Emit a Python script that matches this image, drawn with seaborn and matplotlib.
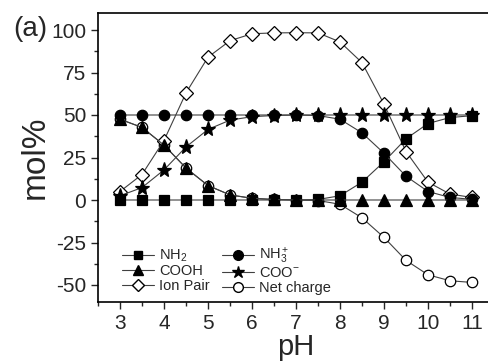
import matplotlib
matplotlib.use("Agg")
import matplotlib.pyplot as plt
import seaborn as sns
import numpy as np
import pandas as pd
from matplotlib.lines import Line2D

ph = [3, 3.5, 4, 4.5, 5, 5.5, 6, 6.5, 7, 7.5, 8, 8.5, 9, 9.5, 10, 10.5, 11]
nh2 = [0, 0, 0, 0, 0, 0, 0, 0, 0, 0.3, 2.5, 10.5, 22.5, 36, 45, 48.5, 49.6]
nh3 = [50, 50, 50, 50, 50, 50, 50, 50, 50, 49.7, 47.5, 39.5, 27.5, 14, 5, 1.5, 0.4]
cooh = [47.5, 42.7, 32.3, 18.8, 8.5, 3, 1, 0.3, 0, 0, 0, 0, 0, 0, 0, 0, 0]
coo = [2.5, 7.3, 17.7, 31.2, 41.5, 47, 49, 49.7, 50, 50, 50, 50, 50, 50, 50, 50, 50]
ion_pair = [5, 15, 35, 63, 84, 93.7, 97.8, 98.3, 98.4, 98.3, 93, 80.8, 56.4, 28.5, 10.5, 3.5, 1.5]
net_charge = [47.5, 42.7, 32.3, 18.8, 8.5, 3, 1, 0.3, 0, -0.3, -2.5, -10.5, -22, -35.5, -44, -47.5, -48.5]

xticks = [3, 4, 5, 6, 7, 8, 9, 10, 11]
yticks = [-50, -25, 0, 25, 50, 75, 100]

sns.set_theme(style="ticks")
plt.rcParams['font.family'] = ['Liberation Sans', 'DejaVu Sans']
plt.rcParams['mathtext.fontset'] = 'custom'
plt.rcParams['mathtext.rm'] = 'Liberation Sans'
plt.rcParams['mathtext.it'] = 'Liberation Sans'
plt.rcParams['axes.unicode_minus'] = False

fig = plt.figure(figsize=(4.89, 3.61), dpi=100)
ax = fig.add_axes([98/489, 1 - 302/361, (494 - 98)/489, (302 - 13)/361])

lc = '#404040'
series = [
    ("Net charge", net_charge, 'o', 'white', 7.5),
    ("Ion Pair", ion_pair, 'D', 'white', 7),
    ("NH$_2$", nh2, 's', 'black', 6.5),
    ("NH$_3^+$", nh3, 'o', 'black', 7.5),
    ("COOH", cooh, '^', 'black', 8),
    ("COO$^{{-}}$", coo, '*', 'black', 11),
]
for name, vals, m, fc, ms in series:
    df = pd.DataFrame({"pH": ph, "v": vals})
    sns.lineplot(data=df, x="pH", y="v", ax=ax, color=lc, linewidth=0.8,
                 marker=m, markersize=ms, markerfacecolor=fc,
                 markeredgecolor='black', markeredgewidth=0.9, label=name,
                 legend=False)

ax.set_xlim(2.5, 11.5)
ax.set_ylim(-60, 110)
ax.set_xticks(xticks)
ax.set_yticks(yticks)
ax.set_xticks(np.arange(2.5, 11.6, 0.5), minor=True)
ax.set_yticks(np.arange(-50, 110, 12.5), minor=True)
ax.tick_params(axis='both', which='major', direction='out', length=5, width=1,
               labelsize=15, top=False, right=False)
ax.tick_params(axis='both', which='minor', direction='out', length=3, width=1,
               top=False, right=False)
for s in ax.spines.values():
    s.set_linewidth(1.2)
    s.set_color('black')
ax.set_xlabel("pH", fontsize=21, labelpad=0)
ax.set_ylabel("mol%", fontsize=24, labelpad=0)
fig.text(13/489, 1 - 29/361, "(a)", fontsize=20, va='center', ha='left')

def mk(m, fc, ms):
    return Line2D([], [], color=lc, linewidth=0.8, marker=m, markersize=ms,
                  markerfacecolor=fc, markeredgecolor='black')
order = [("NH$_2$", 's', 'black', 6), ("COOH", '^', 'black', 7),
         ("Ion Pair", 'D', 'white', 6), ("NH$_3^+$", 'o', 'black', 7),
         ("COO$^{{-}}$", '*', 'black', 9), ("Net charge", 'o', 'white', 7)]
ax.legend([mk(m, fc, ms) for _, m, fc, ms in order], [n for n, *_ in order],
          ncol=2, loc='lower left', bbox_to_anchor=(0.035, -0.01), frameon=False,
          fontsize=10.5, handlelength=2.2, handletextpad=0.35, columnspacing=0.8,
          labelspacing=0.02, borderaxespad=0.3)

fig.savefig("out.png", dpi=100)
